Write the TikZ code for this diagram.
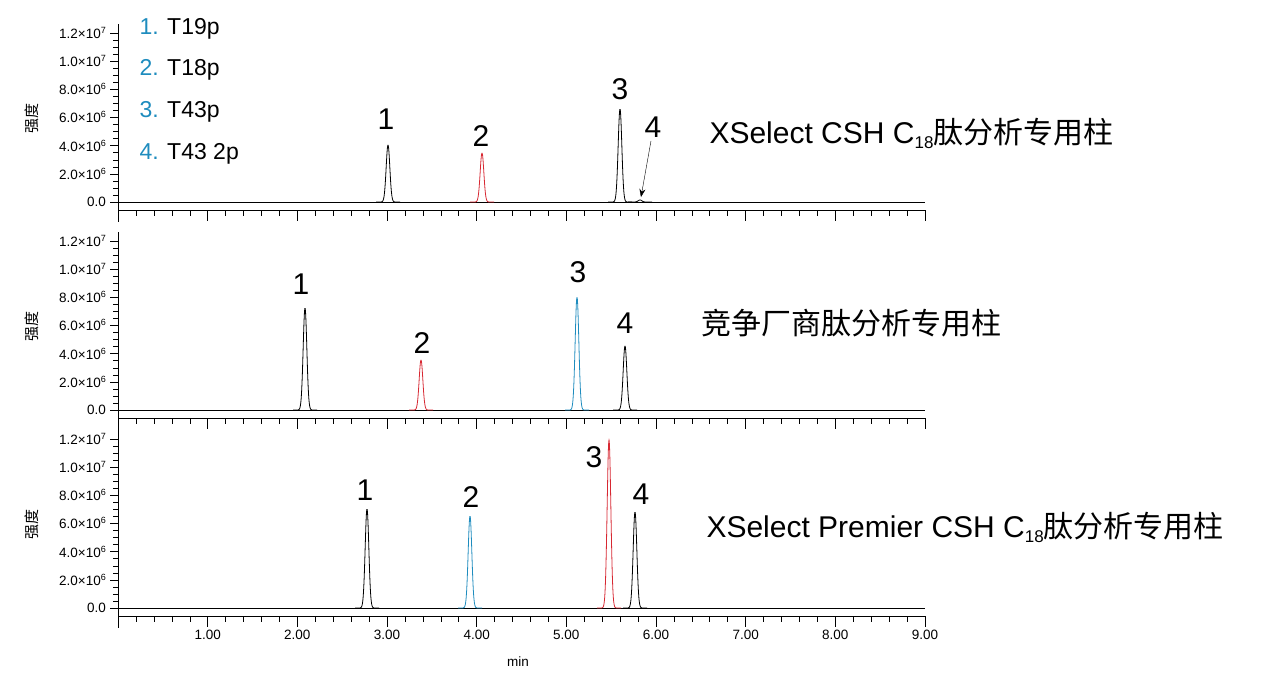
\documentclass[tikz,border=0pt]{standalone}
\usepackage{fontspec}
\usetikzlibrary{arrows.meta}
\setmainfont{Liberation Sans}
\newfontfamily\cjk{Noto Sans CJK SC}
\definecolor{pblue}{RGB}{30,140,190}
\definecolor{pred}{RGB}{215,40,50}
\newcommand\mysub[1]{{\fontsize{17}{17}\selectfont\raisebox{-5pt}{#1}}}
\newcommand\mysup[1]{{\fontsize{9}{9}\selectfont\raisebox{5pt}{#1}}}
\begin{document}
\begin{tikzpicture}[x=1pt,y=-1pt,
  ticklab/.style={anchor=east,font=\fontsize{13.5}{13.5}\selectfont,inner sep=1pt},
  pnum/.style={font=\fontsize{30}{30}\selectfont},
  title/.style={anchor=west,font=\fontsize{30}{30}\selectfont},
  leg/.style={anchor=west,font=\fontsize{23}{23}\selectfont},
  peak/.style={line width=0.8pt}]
\useasboundingbox (0,0) rectangle (1280,680);
\def\panel#1#2{% #1 = baseline y, #2 = x-axis line y
  \draw (118,#1-178) -- (118,#2+12);
  \draw (118,#1) -- (925,#1);
  \draw (118,#2) -- (925,#2);
  \foreach \k in {0,...,24}{\draw (113,#1-\k*7.05) -- (118,#1-\k*7.05);}
  \foreach \k in {0,...,6}{\draw (110,#1-\k*28.2) -- (118,#1-\k*28.2);}
  \foreach \k in {0,...,45}{\draw (118+\k*17.93,#2) -- (118+\k*17.93,#2+6);}
  \foreach \k in {0,...,9}{\draw (118+\k*89.67,#2) -- (118+\k*89.67,#2+11);}
  \node[ticklab] at (107,#1) {0.0};
  \node[ticklab] at (107,#1-28.2) {2.0×10\mysup{6}};
  \node[ticklab] at (107,#1-56.4) {4.0×10\mysup{6}};
  \node[ticklab] at (107,#1-84.6) {6.0×10\mysup{6}};
  \node[ticklab] at (107,#1-112.8) {8.0×10\mysup{6}};
  \node[ticklab] at (107,#1-141) {1.0×10\mysup{7}};
  \node[ticklab] at (107,#1-169.2) {1.2×10\mysup{7}};
  \node[rotate=90,font=\cjk\fontsize{15}{15}\selectfont] at (32,#1-84) {强度};
}
% peak: base, center px, height px, colour
\def\pk#1#2#3#4{\draw[peak,#4] plot[domain=#2-12:#2+12,samples=60,smooth] (\x,{#1-#3*exp(-((\x-#2)/2.6)^2)});}
% panel 1
\panel{202}{210}
\pk{202}{388}{57}{black}
\pk{202}{482}{49}{pred}
\pk{202}{620}{93}{black}
\pk{202}{640}{2}{black}
\node[pnum] (n11) at (386,119) {1};
\node[pnum] (n12) at (481,136) {2};
\node[pnum] (n13) at (620,89) {3};
\node[pnum] (n14) at (653,127) {4};
\coordinate (a4) at (641,197);
\draw[-{Stealth[length=8pt]}] (n14.south) ++(-2,0) -- (a4);
\node[title] (t1) at (706,133) {XSelect CSH C\mysub{18}\cjk 肽分析专用柱};
\node[leg] (l1) at (136,29) {\textcolor{pblue}{1.} T19p};
\node[leg] (l2) at (136,70) {\textcolor{pblue}{2.} T18p};
\node[leg] (l3) at (136,112) {\textcolor{pblue}{3.} T43p};
\node[leg] (l4) at (136,154) {\textcolor{pblue}{4.} T43 2p};
% panel 2
\panel{410}{418}
\pk{410}{305}{102}{black}
\pk{410}{421}{50}{pred}
\pk{410}{577}{113}{pblue}
\pk{410}{625}{64}{black}
\node[pnum] (n21) at (301,284) {1};
\node[pnum] (n22) at (422,343) {2};
\node[pnum] (n23) at (578,272) {3};
\node[pnum] (n24) at (625,323) {4};
\node[title] (t2) at (698,323) {\cjk 竞争厂商肽分析专用柱};
% panel 3
\panel{608}{616}
\pk{608}{367}{99}{black}
\pk{608}{470}{92}{pblue}
\pk{608}{609}{168}{pred}
\pk{608}{635}{96}{black}
\node[pnum] (n31) at (365,490) {1};
\node[pnum] (n32) at (471,497) {2};
\node[pnum] (n33) at (594,457) {3};
\node[pnum] (n34) at (641,494) {4};
\node[title] (t3) at (703,527) {XSelect Premier CSH C\mysub{18}\cjk 肽分析专用柱};
\foreach \k in {1,...,9}{\node[font=\fontsize{13.5}{13.5}\selectfont] at (118+\k*89.67,635) {\k.00};}
\node[font=\fontsize{13.5}{13.5}\selectfont] (xl) at (518,662) {min};
\end{tikzpicture}
\end{document}
